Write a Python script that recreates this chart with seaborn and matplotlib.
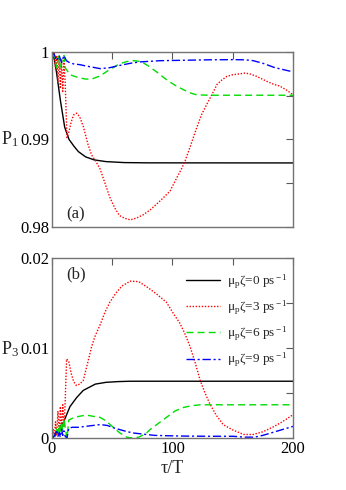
import numpy as np
import pandas as pd
import matplotlib
matplotlib.use("Agg")
import matplotlib.pyplot as plt
import seaborn as sns
from matplotlib.ticker import MultipleLocator, FuncFormatter

sns.set_theme(style="white")
plt.rcParams['font.family'] = ['Liberation Serif', 'DejaVu Serif']
plt.rcParams['mathtext.fontset'] = 'custom'
plt.rcParams['mathtext.rm'] = 'Liberation Serif'
plt.rcParams['mathtext.it'] = 'Liberation Serif:italic'

# ---------------- data ----------------
labels = [r"μ$_{\rm p}$ζ=0 ps$^{\rm -1}$", r"μ$_{\rm p}$ζ=3 ps$^{\rm -1}$",
          r"μ$_{\rm p}$ζ=6 ps$^{\rm -1}$", r"μ$_{\rm p}$ζ=9 ps$^{\rm -1}$"]

# panel (a): P1
t_p1_0 = [0, 2, 4, 7, 10.6, 14.2, 18.4, 22, 28, 35, 45, 60, 80, 200]
p1_0 = [1.0, 0.9992, 0.9975, 0.9945, 0.9914, 0.9900, 0.9892, 0.9886, 0.9880,
        0.98766, 0.98746, 0.98735, 0.98732, 0.98731]

t_p1_3 = [0, 1, 2, 3, 4, 5, 6, 7, 8, 9, 10, 11, 12.5, 14, 16, 18, 20.5, 23, 26,
          30, 33, 36, 40, 44, 48, 52, 56, 60, 65, 70, 76, 82, 90, 98, 103.5,
          107, 110.4, 115, 120, 124, 128.4, 133, 137, 141, 145, 150, 156, 160,
          164, 170, 178, 184, 189, 195, 200]
p1_3 = [1.0, 0.9992, 0.9998, 0.9980, 0.9996, 0.9966, 0.9994, 0.9958, 0.9992,
        0.9955, 0.9990, 0.9965, 0.9902, 0.9908, 0.9920, 0.9928, 0.9930, 0.9926,
        0.9915, 0.9894, 0.9882, 0.9876, 0.9866, 0.9850, 0.9834, 0.9822, 0.9813,
        0.9810, 0.9808, 0.9810, 0.9814, 0.9820, 0.9830, 0.9841, 0.9856, 0.9865,
        0.9875, 0.9893, 0.9913, 0.9928, 0.9940, 0.9952, 0.9963, 0.9968, 0.9972,
        0.9974, 0.9975, 0.99758, 0.9975, 0.9972, 0.99665, 0.9963, 0.9961,
        0.9956, 0.9951]

t_p1_6 = [0, 2, 4, 5.5, 7, 8.5, 10, 11, 13, 15, 19, 23, 28, 33, 40, 48, 56, 62,
          68, 74, 80, 88, 95, 102, 109, 115, 120, 130, 150, 200]
p1_6 = [1.0, 0.9995, 0.9982, 0.9995, 0.9980, 0.9992, 0.9996, 0.9982, 0.9978,
        0.9974, 0.9972, 0.99703, 0.9969, 0.9969, 0.99726, 0.9980, 0.99863,
        0.9989, 0.9990, 0.9989, 0.9984, 0.9976, 0.99683, 0.9962, 0.99569,
        0.9953, 0.9951, 0.99505, 0.99505, 0.99505]

t_p1_9 = [0, 2, 4, 6, 8, 10, 12, 15, 19, 23, 28, 34, 40, 48, 56, 65, 73, 90,
          110, 130, 150, 160, 167, 175, 185, 200]
p1_9 = [1.0, 0.9997, 0.9990, 0.9996, 0.9988, 0.9996, 0.9990, 0.99874, 0.9986,
        0.99855, 0.9984, 0.99825, 0.99809, 0.9982, 0.99845, 0.9987, 0.99886,
        0.9990, 0.99905, 0.9991, 0.99912, 0.9991, 0.9990, 0.9987, 0.9982,
        0.99772]

# panel (b): P3
t_p3_0 = [0, 3, 6.6, 9.4, 15, 20.5, 26, 36, 45, 55, 65, 200]
p3_0 = [0, 0.0003, 0.0012, 0.0017, 0.0035, 0.0045, 0.0053, 0.0060, 0.0062,
        0.00628, 0.00632, 0.00632]

t_p3_3 = [0, 1, 2, 3, 4, 5, 6, 7, 8, 9, 10, 11, 12.2, 14, 16, 18, 20.2, 23, 26,
          29, 33, 36, 40, 44, 48, 53, 58, 65, 72, 80, 87, 95, 101, 106, 110,
          114.5, 119, 123, 127, 131, 136, 142, 150, 159, 167, 175, 183, 191, 200]
p3_3 = [0, 0.0010, 0.0002, 0.0018, 0.0003, 0.0030, 0.0005, 0.0035, 0.0008,
        0.0037, 0.0012, 0.0040, 0.0088, 0.0085, 0.0072, 0.0063, 0.00585, 0.0060,
        0.0064, 0.0080, 0.0102, 0.0114, 0.0126, 0.0140, 0.0151, 0.0161, 0.0169,
        0.01745, 0.0174, 0.0167, 0.0160, 0.0151, 0.0138, 0.0128, 0.0117, 0.0102,
        0.0083, 0.0064, 0.0050, 0.0038, 0.0026, 0.0015, 0.0009, 0.0004, 0.0004,
        0.0007, 0.0012, 0.0018, 0.0026]

t_p3_6 = [0, 2, 3, 4, 5, 6, 7, 8, 9, 10, 11, 12.5, 14, 17, 22, 26, 30, 35, 40,
          45, 50, 56, 62, 67, 72, 78, 81, 88, 95, 102, 109, 116, 123, 140, 160, 200]
p3_6 = [0, 0.0004, 0.0001, 0.0010, 0.0003, 0.0015, 0.0005, 0.0018, 0.0008,
        0.0022, 0.0012, 0.0000, 0.0020, 0.0022, 0.0024, 0.00250, 0.00252,
        0.0024, 0.0023, 0.0019, 0.0013, 0.0006, 0.0001, 0.0000, 0.0001, 0.0005,
        0.0009, 0.0016, 0.0023, 0.0030, 0.0034, 0.0036, 0.0037, 0.0037, 0.0037,
        0.0037]

t_p3_9 = [0, 2, 4, 5, 6, 7, 8, 9, 10, 11, 12.5, 14, 17, 22, 28, 34, 40, 46, 52,
          60, 67, 75, 85, 95, 110, 130, 150, 160, 168, 175, 185, 200]
p3_9 = [0, 0.0002, 0.0009, 0.0002, 0.0006, 0.0001, 0.0010, 0.0003, 0.0008,
        0.0002, 0.0000, 0.0011, 0.0012, 0.0012, 0.0013, 0.0014, 0.0015, 0.0014,
        0.0011, 0.0008, 0.00057, 0.00045, 0.0003, 0.00026, 0.00022, 0.0002,
        0.0002, 0.0001, 0.0001, 0.0003, 0.0007, 0.0013]

colors = ["black", "#ff0000", "#00dd00", "#0000ff"]
styles = ["-", (0, (1, 1.2)), (0, (5, 3)), (0, (6, 2, 1.5, 2))]
widths = [1.0, 1.0, 1.0, 1.0]

# ---------------- figure ----------------
fig = plt.figure(figsize=(3.46, 4.90), dpi=100)
axa = fig.add_axes([0.150, 0.537, 0.697, 0.357])
axb = fig.add_axes([0.150, 0.106, 0.697, 0.367])

series_a = [(t_p1_0, p1_0), (t_p1_3, p1_3), (t_p1_6, p1_6), (t_p1_9, p1_9)]
series_b = [(t_p3_0, p3_0), (t_p3_3, p3_3), (t_p3_6, p3_6), (t_p3_9, p3_9)]

for i, (t, v) in enumerate(series_a):
    sns.lineplot(x=t, y=v, ax=axa, color=colors[i], linestyle=styles[i],
                 linewidth=widths[i], sort=False, estimator=None)
for i, (t, v) in enumerate(series_b):
    sns.lineplot(x=t, y=v, ax=axb, color=colors[i], linestyle=styles[i],
                 linewidth=widths[i], sort=False, estimator=None, label=labels[i])

axa.set_xlim(0, 200)
axa.set_ylim(0.98, 1.0)
axb.set_xlim(0, 200)
axb.set_ylim(0, 0.02)

for ax in (axa, axb):
    ax.xaxis.set_major_locator(MultipleLocator(50))
    ax.yaxis.set_major_locator(MultipleLocator(0.005))
    ax.tick_params(direction="in", top=True, right=True, length=5, width=0.8,
                   labelsize=12, colors="0.35", labelcolor="black", pad=2)
    for s in ax.spines.values():
        s.set_color("0.45")
        s.set_linewidth(1.0)
    ax.set_xlabel("")
    ax.set_ylabel("")

def fmt_a(v, pos):
    if abs(v - 1.0) < 1e-9:
        return "1"
    if abs(v - 0.99) < 1e-9:
        return "0.99"
    if abs(v - 0.98) < 1e-9:
        return "0.98"
    return ""

def fmt_b(v, pos):
    if abs(v) < 1e-9:
        return "0"
    if abs(v - 0.01) < 1e-9:
        return "0.01"
    if abs(v - 0.02) < 1e-9:
        return "0.02"
    return ""

def fmt_x(v, pos):
    return "%d" % v if abs(v % 100) < 1e-9 else ""

axa.yaxis.set_major_formatter(FuncFormatter(fmt_a))
axb.yaxis.set_major_formatter(FuncFormatter(fmt_b))
axa.xaxis.set_major_formatter(FuncFormatter(lambda v, p: ""))
axb.xaxis.set_major_formatter(FuncFormatter(fmt_x))

fig.text(1 / 346, 1 - 139 / 490, r"P$_{1}$", fontsize=13, va="center", ha="left")
fig.text(1 / 346, 1 - 349 / 490, r"P$_{3}$", fontsize=13, va="center", ha="left")
axa.text(0.06, 0.05, "(a)", transform=axa.transAxes, fontsize=12)
axb.text(0.06, 0.89, "(b)", transform=axb.transAxes, fontsize=12)
axb.set_xlabel("τ/T", fontsize=13, labelpad=2)

leg = axb.legend(loc="upper right", frameon=False, fontsize=9.5, handlelength=2.6,
                 handletextpad=0.5, labelspacing=0.6, borderaxespad=0.0,
                 bbox_to_anchor=(1.0, 0.95))

fig.savefig("out.png", dpi=100)
